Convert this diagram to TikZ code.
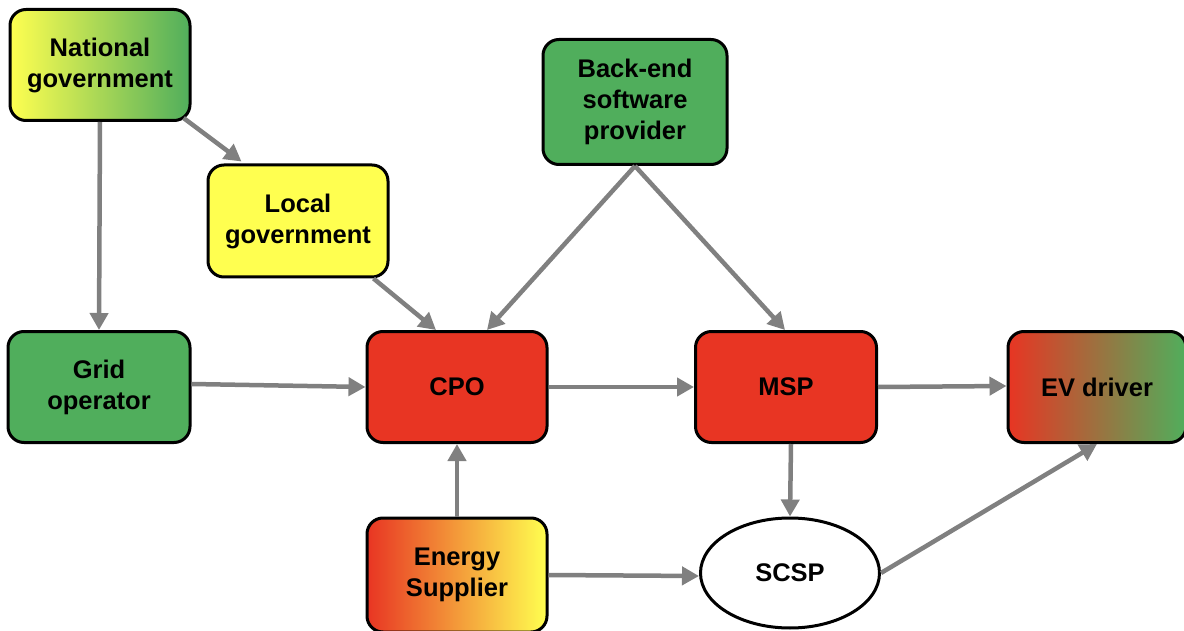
\documentclass[tikz,border=0pt]{standalone}
\usepackage{fontspec}
\setmainfont{Liberation Sans}
\usepackage{xcolor}
\usetikzlibrary{arrows.meta,shapes.geometric}

\definecolor{boxred}{RGB}{232,53,35}
\definecolor{boxgreen}{RGB}{80,174,92}
\definecolor{boxyellow}{RGB}{255,255,80}
\definecolor{linkgray}{RGB}{128,128,128}

\begin{document}
\begin{tikzpicture}[x=1pt,y=-1pt,
    actor/.style={rectangle,rounded corners=16pt,draw=black,line width=3pt,
        minimum width=180pt,minimum height=111pt,align=center,
        font=\fontsize{25.5}{31}\selectfont\bfseries},
    link/.style={draw=linkgray,line width=4.5pt,-{Triangle[length=17pt,width=18pt]}}]
    \useasboundingbox (0,0) rectangle (1184,631);

    % actors
    \node[actor,left color=boxyellow,right color=boxgreen] (natgov) at (100,65) {National\\government};
    \node[actor,fill=boxyellow,minimum height=112pt] (localgov) at (298,221) {Local\\government};
    \node[actor,fill=boxgreen,minimum width=184pt,minimum height=125pt] (backend) at (635,102) {Back-end\\software\\provider};
    \node[actor,fill=boxgreen,minimum width=182pt] (grid) at (99,387) {Grid\\operator};
    \node[actor,fill=boxred] (cpo) at (457,387) {CPO};
    \node[actor,fill=boxred,minimum width=181pt] (msp) at (786,387) {MSP};
    \node[actor,left color=boxred,right color=boxgreen,minimum width=178pt] (ev) at (1097,387) {EV driver};
    \node[actor,left color=boxred,right color=boxyellow,minimum height=114pt] (energy) at (457,575) {Energy\\Supplier};
    \node[ellipse,draw=black,line width=3pt,fill=white,minimum width=179pt,minimum height=110pt,
        font=\fontsize{25.5}{31}\selectfont\bfseries] (scsp) at (790,573) {SCSP};

    % links
    \draw[link] (natgov.south) -- (grid.north);
    \draw[link] ([xshift=-8pt,yshift=4pt]natgov.south east) -- ([xshift=35pt,yshift=2pt]localgov.north west);
    \draw[link] ([xshift=-16pt]localgov.south east) -- ([xshift=-21pt]cpo.north);
    \draw[link] (backend.south) -- ([xshift=30pt]cpo.north);
    \draw[link] (backend.south) -- ([xshift=-1pt]msp.north);
    \draw[link] ([yshift=3pt]grid.east) -- (cpo.west);
    \draw[link] (cpo.east) -- (msp.west);
    \draw[link] (msp.east) -- ([yshift=1pt]ev.west);
    \draw[link] (energy.north) -- (cpo.south);
    \draw[link] ([xshift=5pt]msp.south) -- (scsp.north);
    \draw[link] (energy.east) -- ([yshift=-3pt]scsp.west);
    \draw[link] (scsp.east) -- (ev.south);
\end{tikzpicture}
\end{document}
